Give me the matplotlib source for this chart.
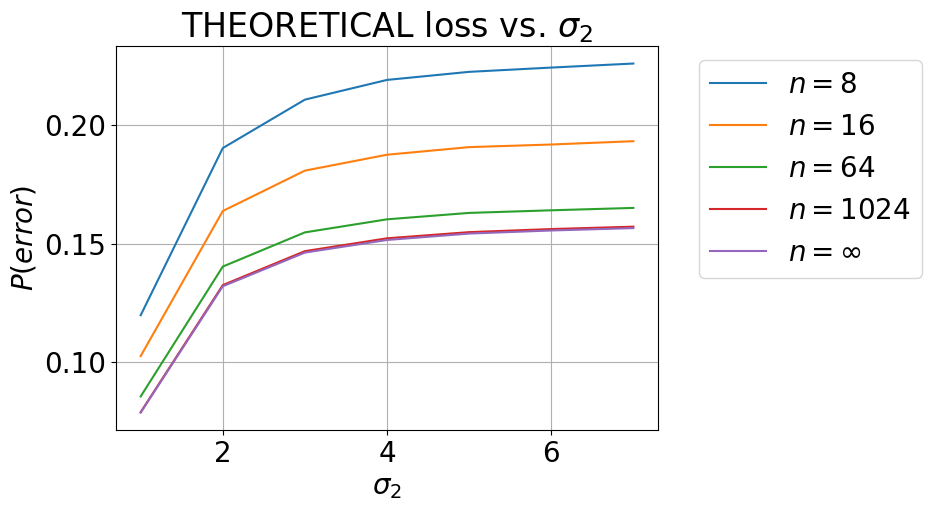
import matplotlib
matplotlib.use("Agg")
import matplotlib.pyplot as plt

sigma2 = [1, 2, 3, 4, 5, 6, 7]
loss_n8 = [0.1198, 0.1902, 0.2106, 0.2189, 0.2223, 0.2241, 0.2258]
loss_n16 = [0.1026, 0.1637, 0.1807, 0.1874, 0.1906, 0.1917, 0.1931]
loss_n64 = [0.0856, 0.1403, 0.1547, 0.1602, 0.1629, 0.1640, 0.1650]
loss_n1024 = [0.0790, 0.1325, 0.1468, 0.1522, 0.1548, 0.1561, 0.1571]
loss_inf = [0.0788, 0.1320, 0.1462, 0.1515, 0.1542, 0.1555, 0.1565]

labels = [r"$n=8$", r"$n=16$", r"$n=64$", r"$n=1024$", r"$n=\infty$"]
series = [loss_n8, loss_n16, loss_n64, loss_n1024, loss_inf]

plt.rcParams['font.size'] = 20

fig = plt.figure(figsize=(9.32, 5.12), dpi=100)
ax = fig.add_axes([0.1245, 0.160, 0.5815, 0.750])

for vals, lab in zip(series, labels):
    ax.plot(sigma2, vals, label=lab)

ax.grid(True)
ax.set_title(r"THEORETICAL loss vs. $\sigma_2$", fontsize=24)
ax.set_xlabel(r"$\sigma_2$")
ax.set_ylabel(r"$P(error)$")
ax.set_xticks([2, 4, 6])
ax.set_yticks([0.10, 0.15, 0.20])
ax.legend(loc='upper left', bbox_to_anchor=(1.05, 1.0))

fig.savefig("out.png", dpi=100)
